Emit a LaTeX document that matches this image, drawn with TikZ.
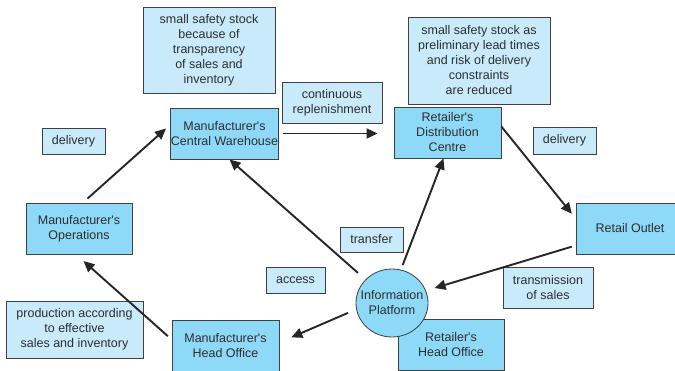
\documentclass[tikz,border=0pt]{standalone}
\usepackage{fontspec}
\setmainfont{Liberation Sans}
\usepackage{xcolor}
\usetikzlibrary{shapes.geometric, arrows.meta}
\definecolor{boxblue}{HTML}{8ED8F8}
\definecolor{noteblue}{HTML}{C8EAFA}
\definecolor{edgegray}{HTML}{404040}
\definecolor{textgray}{HTML}{2E2E2E}
\newcommand{\apos}{\textquotesingle}

\begin{document}
\begin{tikzpicture}[x=1pt, y=-1pt,
    every node/.style={draw=edgegray, line width=0.8pt, text=textgray, align=center, inner sep=1pt, font=\fontsize{12.5}{15}\selectfont},
    box/.style={rectangle, fill=boxblue, inner xsep=0pt, minimum width=107pt, minimum height=51pt},
    note/.style={rectangle, fill=noteblue},
    flow/.style={-{Triangle[length=11pt, width=10pt]}, line width=1.9pt, draw=black!85}]
    \useasboundingbox (0,0) rectangle (675,370);

    % Manufacturer side
    \node (mcw) [box] at (224.5,133.5) {Manufacturer\apos s\\Central Warehouse};
    \node (ops) [box, minimum width=106pt] at (79,228.5) {Manufacturer\apos s\\Operations};
    \node (mho) [box] at (225.5,345.5) {Manufacturer\apos s\\Head Office};

    % Retailer side
    \node (rdc) [box] at (447.5,132.5) {Retailer\apos s\\Distribution\\Centre};
    \node (outlet) [box, minimum width=108pt] at (630,228.5) {Retail Outlet};
    \node (rho) [box, minimum width=106pt] at (451,344.5) {Retailer\apos s\\Head Office};
    \node (info) [ellipse, fill=boxblue, inner xsep=-6pt, inner ysep=-4pt, minimum width=72pt, minimum height=68pt] at (392,303) {Information\\Platform};

    % Notes and labels
    \node (mcwnote) [note, minimum width=132pt, minimum height=86pt] at (209,50) {small safety stock\\because of\\transparency\\of sales and\\inventory};
    \node (rdcnote) [note, minimum width=142pt, minimum height=87pt] at (479,60.5) {small safety stock as\\preliminary lead times\\and risk of delivery\\constraints\\are reduced};
    \node (replen) [note, minimum width=100pt, minimum height=41pt] at (332,102.5) {continuous\\replenishment};
    \node (delivleft) [note, minimum width=63pt, minimum height=26pt] at (73.5,141) {delivery};
    \node (delivright) [note, minimum width=63pt, minimum height=27pt] at (564.5,140.5) {delivery};
    \node (transfer) [note, minimum width=63pt, minimum height=25pt] at (371.5,239.5) {transfer};
    \node (access) [note, minimum width=59pt, minimum height=26pt] at (295.5,280) {access};
    \node (sales) [note, minimum width=90pt, minimum height=41pt] at (548,287.5) {transmission\\of sales};
    \node (prod) [note, minimum width=137pt, minimum height=57pt] at (74.5,329.5) {production according\\to effective\\sales and inventory};

    % Connections
    \draw[flow, shorten <=6pt, shorten >=6pt] ([xshift=4pt]ops.north) -- ([yshift=9pt]mcw.west);
    \draw[flow, shorten <=4pt, shorten >=16pt] (mcw.east) -- (mcw.east -| rdc.west);
    \draw[flow, shorten >=6pt] ([yshift=6pt]rdc.east) -- ([yshift=10pt]outlet.west);
    \draw[flow, shorten <=4pt, shorten >=9pt] ([yshift=-17pt]outlet.west) -- (info.20);
    \draw[flow, shorten <=10pt] (info) -- ([xshift=5pt]mcw.south);
    \draw[flow, shorten <=5pt] (info.75) -- ([xshift=-4pt]rdc.south);
    \draw[flow, shorten <=9pt, shorten >=13pt] (info.190) -- ([yshift=3pt]mho.east);
    \draw[flow, shorten <=5pt, shorten >=10pt] ([yshift=6pt]mho.west) -- ([xshift=-3pt]ops.south);
\end{tikzpicture}
\end{document}
